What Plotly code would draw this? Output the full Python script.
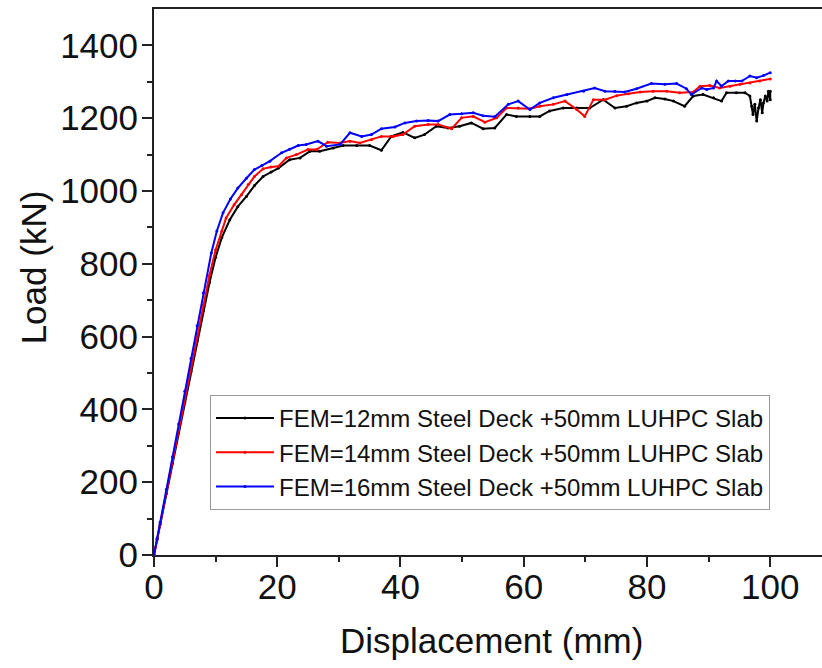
import plotly.graph_objects as go

# ---- data ----
x_12 = [0, 0.5, 1, 2, 3, 4, 5, 6, 7, 8, 9, 10, 11, 12.3, 13.6, 15, 16.3, 17.7, 19, 20.2,
        22, 23.7, 25.3, 26.9, 29.1, 30.7, 32.9, 35, 36.9, 38.5, 40.4, 42.3, 43.9, 45.8,
        47.7, 49.6, 51.5, 53.4, 55.3, 57.2, 58.8, 61, 62.6, 64.2, 66.4, 68.6, 70.7, 72.9,
        74.8, 76.7, 78.3, 80, 81.3, 82.9, 84.3, 86.1, 87.5, 89.1, 90.8, 92.1, 92.9, 94.5,
        95.9, 96.7, 97, 97.2, 97.5, 97.8, 98.1, 98.4, 98.7, 98.9, 99.2, 99.5, 99.7, 100, 100]
y_12 = [0, 42, 84, 168, 252, 336, 420, 504, 588, 670, 748, 818, 872, 921, 957, 985, 1015,
        1040, 1052, 1063, 1086, 1091, 1109, 1109, 1118, 1125, 1125, 1125, 1112, 1150, 1161,
        1146, 1155, 1178, 1173, 1178, 1187, 1171, 1173, 1210, 1205, 1205, 1205, 1220, 1228,
        1228, 1228, 1251, 1228, 1233, 1242, 1247, 1256, 1253, 1247, 1233, 1261, 1265, 1256,
        1247, 1270, 1270, 1270, 1261, 1233, 1210, 1238, 1192, 1228, 1251, 1215, 1242, 1261,
        1247, 1274, 1251, 1274]

x_14 = [0, 0.5, 1, 2, 3, 4, 5, 6, 7, 8, 9, 10, 11, 11.7, 13, 14.2, 15.3, 16.3, 17.7, 19,
        20.2, 21.5, 23.1, 25, 26.4, 28.2, 30.2, 31.8, 33.4, 35.3, 36.9, 38.8, 40.4, 42.3,
        44.5, 46.1, 48.3, 49.9, 51.8, 53.7, 55.6, 57.2, 59.1, 61, 62.6, 64.8, 66.7, 68.6,
        69.9, 71.3, 73.2, 75.1, 77, 78.9, 81, 83.2, 85.3, 87.5, 88.6, 90.2, 91.8, 93.5,
        95.1, 96.7, 98.3, 100]
y_14 = [0, 43, 86, 172, 258, 344, 430, 516, 602, 686, 768, 838, 890, 926, 962, 990, 1018,
        1040, 1061, 1066, 1068, 1091, 1100, 1114, 1114, 1134, 1132, 1137, 1132, 1141, 1150,
        1150, 1155, 1178, 1183, 1183, 1171, 1201, 1205, 1189, 1201, 1228, 1228, 1226, 1233,
        1238, 1247, 1224, 1205, 1251, 1251, 1262, 1267, 1272, 1274, 1274, 1270, 1272, 1288,
        1290, 1283, 1288, 1293, 1297, 1302, 1308]

x_16 = [0, 0.5, 1, 2, 3, 4, 5, 6, 7, 8, 9.3, 10.2, 11.2, 12.4, 13.6, 15, 16.3, 17.5, 18.8,
        20.7, 22, 23.4, 24.7, 26.6, 28, 30.2, 31.8, 33.7, 35.3, 36.9, 39.1, 40.7, 42.6, 44.5,
        46.1, 48, 49.9, 51.8, 53.4, 55.3, 57.5, 59.1, 61, 62.6, 64.8, 67, 69.7, 71.5, 73.2,
        74.8, 76.4, 78.3, 80.7, 82.9, 84.8, 86.4, 87.2, 88.9, 89.7, 90.8, 91.3, 92.1, 93.2,
        94.3, 95.4, 96.7, 97.8, 98.9, 100]
y_16 = [0, 45, 90, 180, 270, 360, 450, 540, 630, 720, 830, 890, 940, 978, 1008, 1035, 1059,
        1070, 1082, 1105, 1115, 1125, 1128, 1137, 1123, 1128, 1160, 1150, 1155, 1171, 1176,
        1187, 1192, 1194, 1192, 1210, 1212, 1215, 1207, 1204, 1238, 1247, 1224, 1242, 1256,
        1265, 1274, 1283, 1274, 1274, 1272, 1281, 1295, 1293, 1295, 1281, 1265, 1283, 1279,
        1283, 1302, 1288, 1302, 1302, 1302, 1316, 1311, 1317, 1325]

names = ["FEM=12mm Steel Deck +50mm LUHPC Slab",
         "FEM=14mm Steel Deck +50mm LUHPC Slab",
         "FEM=16mm Steel Deck +50mm LUHPC Slab"]
colors = ["#000000", "#ff0000", "#0000ff"]

FONT = "Liberation Sans, Arial, sans-serif"

fig = go.Figure()
for xs, ys, nm, c in zip([x_12, x_14, x_16], [y_12, y_14, y_16], names, colors):
    fig.add_trace(go.Scatter(x=xs, y=ys, name=nm, mode="lines+markers",
                             line=dict(color=c, width=2),
                             marker=dict(color=c, size=3)))

axis_common = dict(showline=True, linecolor="#222", linewidth=2, ticks="outside",
                   ticklen=10, tickwidth=2, tickcolor="#222", showgrid=False,
                   zeroline=False, tickfont=dict(family=FONT, size=35, color="#111"))

fig.update_xaxes(range=[0, 108.4], tickvals=[0, 20, 40, 60, 80, 100], mirror=True,
                 minor=dict(ticks="outside", ticklen=5, tickwidth=2, tickcolor="#222",
                            tickvals=[10, 30, 50, 70, 90]),
                 ticklabelstandoff=-10,
                 **axis_common)
fig.update_yaxes(range=[0, 1500], tickvals=[0, 200, 400, 600, 800, 1000, 1200, 1400],
                 minor=dict(ticks="outside", ticklen=5, tickwidth=2, tickcolor="#222",
                            tickvals=[100, 300, 500, 700, 900, 1100, 1300]),
                 ticklabelstandoff=-3,
                 **axis_common)

fig.update_layout(
    width=822, height=668,
    margin=dict(l=154, r=0, t=9, b=113),
    plot_bgcolor="white", paper_bgcolor="white",
    font=dict(family=FONT, color="#111"),
    showlegend=True,
    legend=dict(x=0.0838, y=0.293, xanchor="left", yanchor="top",
                bgcolor="white", bordercolor="#999", borderwidth=1,
                font=dict(family=FONT, size=24, color="#111"),
                itemwidth=58, tracegroupgap=0),
    annotations=[
        dict(text="Displacement (mm)", xref="paper", yref="paper", x=0.5045, y=-0.156,
             xanchor="center", yanchor="middle", showarrow=False,
             font=dict(family=FONT, size=35, color="#111")),
        dict(text="Load (kN)", xref="paper", yref="paper", x=-0.181, y=0.527,
             xanchor="center", yanchor="middle", showarrow=False, textangle=-90,
             font=dict(family=FONT, size=35, color="#111")),
    ],
)

fig.write_html("out.html")
